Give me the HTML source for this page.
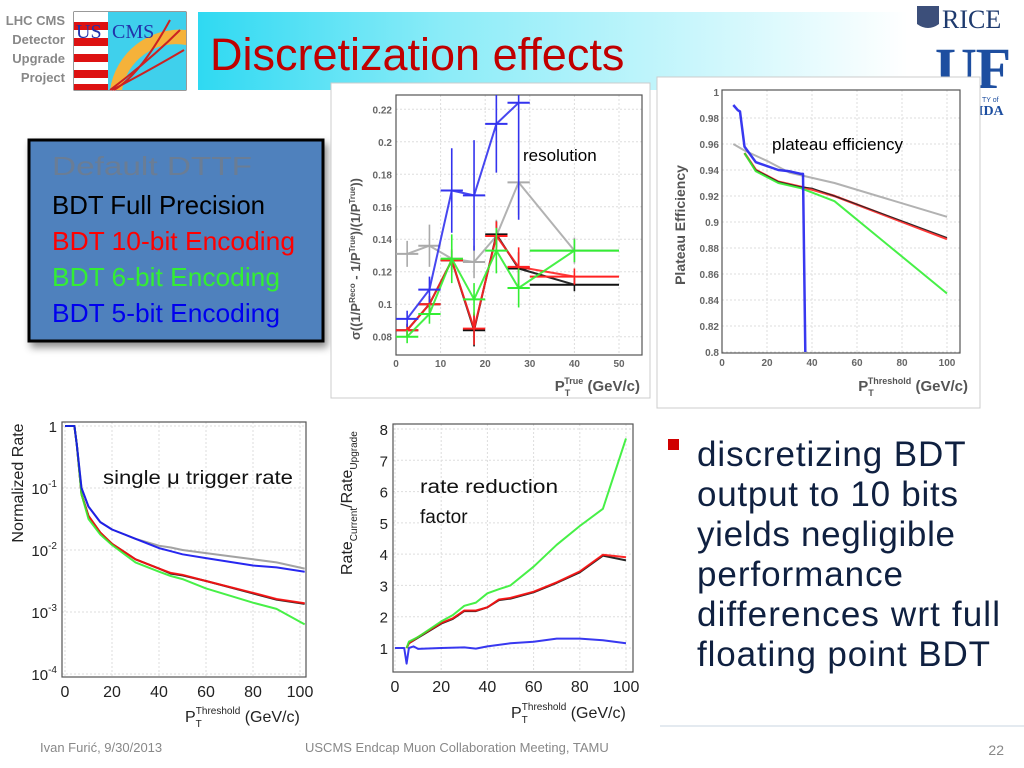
<!DOCTYPE html>
<html><head><meta charset="utf-8"><style>
html,body{margin:0;padding:0;background:#fff;width:1024px;height:768px;overflow:hidden}
svg{display:block;font-family:"Liberation Sans",sans-serif}
</style></head><body>
<svg id="s" width="1024" height="768" viewBox="0 0 1024 768" xmlns="http://www.w3.org/2000/svg">
<defs>
<linearGradient id="tg" x1="0" x2="1" y1="0" y2="0"><stop offset="0" stop-color="#2fd9f2"/><stop offset="0.35" stop-color="#8cecf8"/><stop offset="1" stop-color="#ffffff"/></linearGradient>
<filter id="sh" x="-10%" y="-10%" width="130%" height="130%"><feDropShadow dx="3" dy="5" stdDeviation="4" flood-color="#000" flood-opacity="0.45"/></filter>
</defs>
<g>
<text x="65" y="25" text-anchor="end" font-size="13" font-weight="bold" fill="#888"><tspan x="65">LHC CMS</tspan><tspan x="65" dy="19">Detector</tspan><tspan x="65" dy="19">Upgrade</tspan><tspan x="65" dy="19">Project</tspan></text>
<g>
<rect x="74" y="12" width="112" height="78" fill="#a9e9f4" stroke="#333"/>
<rect x="74" y="12" width="34" height="78" fill="#fff"/>
<rect x="74" y="22" width="34" height="8" fill="#d11"/><rect x="74" y="38" width="34" height="8" fill="#d11"/><rect x="74" y="54" width="34" height="8" fill="#d11"/><rect x="74" y="70" width="34" height="8" fill="#d11"/><rect x="74" y="84" width="34" height="6" fill="#d11"/>
<rect x="108" y="12" width="78" height="78" fill="#3fd0ec"/>
<path d="M110 90 A70 70 0 0 1 186 30 L186 45 A55 55 0 0 0 122 90Z" fill="#f5b23a"/>
<path d="M110 90 Q150 60 180 30 M112 90 Q150 70 184 50 M114 90 Q140 75 170 20" stroke="#c22" stroke-width="2" fill="none"/>
<text x="76" y="38" font-family="Liberation Serif,serif" font-size="20" fill="#2233aa">US</text>
<text x="112" y="38" font-family="Liberation Serif,serif" font-size="20" fill="#2233aa">CMS</text>
</g>
<rect x="198" y="12" width="710" height="78" fill="url(#tg)"/>
<text x="210" y="70" font-size="45" fill="#c00000">Discretization effects</text>
<g>
<path d="M917 6 h22 v18 q-11 8 -22 0z" fill="#3c4f7a"/>
<text x="942" y="28" font-family="Liberation Serif,serif" font-size="26" fill="#1e3a6e">RICE</text>
</g>
<g>
<text x="935" y="88" font-family="Liberation Serif,serif" font-size="58" font-weight="bold" fill="#1d4ea0" textLength="76">UF</text>
<text x="982" y="102" font-size="7" fill="#1d4ea0">TY of</text>
<text x="978" y="115" font-family="Liberation Serif,serif" font-size="14" font-weight="bold" fill="#1d4ea0">IDA</text>
</g>
</g>

<g filter="url(#sh)">
<rect x="29" y="140" width="294" height="201" fill="#4f81bd" stroke="#000" stroke-width="3"/>
</g>
<g font-size="26">
<text x="52" y="175" fill="#6a7d95" textLength="200" lengthAdjust="spacingAndGlyphs">Default DTTF</text>
<text x="52" y="214" fill="#000" textLength="213" lengthAdjust="spacingAndGlyphs">BDT Full Precision</text>
<text x="52" y="250" fill="#ff0000" textLength="243" lengthAdjust="spacingAndGlyphs">BDT 10-bit Encoding</text>
<text x="52" y="286" fill="#33ee33" textLength="228" lengthAdjust="spacingAndGlyphs">BDT 6-bit Encoding</text>
<text x="52" y="322" fill="#0000ee" textLength="228" lengthAdjust="spacingAndGlyphs">BDT 5-bit Encoding</text>
</g>

<g>
<rect x="668" y="439" width="11" height="11" fill="#d00000"/>
<text font-size="35" fill="#0f2040" lengthAdjust="spacingAndGlyphs">
<tspan x="697" y="466" textLength="268">discretizing BDT</tspan>
<tspan x="697" y="506" textLength="261">output to 10 bits</tspan>
<tspan x="697" y="546" textLength="258">yields negligible</tspan>
<tspan x="697" y="586" textLength="206">performance</tspan>
<tspan x="697" y="626" textLength="303">differences wrt full</tspan>
<tspan x="697" y="666" textLength="293">floating point BDT</tspan></text>
</g>
<line x1="660" y1="726" x2="1024" y2="726" stroke="#c8d4e0"/>
<text x="40" y="752" font-size="13" fill="#888">Ivan Furić, 9/30/2013</text>
<text x="305" y="752" font-size="13" fill="#888">USCMS Endcap Muon Collaboration Meeting, TAMU</text>
<text x="1004" y="755" font-size="14" fill="#888" text-anchor="end">22</text>

<g id="res"></g>
<g id="plat"></g>
<g id="rate"></g>
<g id="red"></g>
</svg>
<script>
// ---- resolution data ----
const resBins = [2.5, 7.5, 12.5, 17.5, 22.5, 27.5, 40];
const resBinHalf = [2.5, 2.5, 2.5, 2.5, 2.5, 2.5, 10];
const resGray = [0.131, 0.136, 0.128, 0.126, 0.142, 0.175, 0.133];
const resBlack = [0.084, 0.100, 0.127, 0.084, 0.143, 0.122, 0.112];
const resRed = [0.084, 0.100, 0.127, 0.085, 0.142, 0.123, 0.117];
const resGreen = [0.080, 0.094, 0.128, 0.103, 0.133, 0.110, 0.133];
const resBlue = [0.091, 0.109, 0.170, 0.167, 0.211, 0.224];
const resErrGray = [0.008, 0.013, 0.006, 0.010, 0.010, 0.020, 0.008];
const resErrBlack = [0.004, 0.005, 0.006, 0.010, 0.008, 0.010, 0.004];
const resErrRed = [0.004, 0.005, 0.007, 0.010, 0.009, 0.012, 0.005];
const resErrGreen = [0.004, 0.006, 0.015, 0.010, 0.014, 0.012, 0.007];
const resErrBlue = [0.005, 0.008, 0.026, 0.034, 0.030, 0.072];
const resXTicks = [0, 10, 20, 30, 40, 50];
const resYTicks = [0.08, 0.1, 0.12, 0.14, 0.16, 0.18, 0.2, 0.22];
const resYLabels = ["0.08", "0.1", "0.12", "0.14", "0.16", "0.18", "0.2", "0.22"];
// ---- plateau data ----
const platBlueX = [5, 7, 8, 10, 15, 25, 30, 35, 36, 37];
const platBlueY = [0.990, 0.986, 0.985, 0.958, 0.946, 0.940, 0.939, 0.937, 0.937, 0.80];
const platGrayX = [5, 10, 20, 30, 50, 100];
const platGrayY = [0.960, 0.955, 0.947, 0.938, 0.930, 0.904];
const platRedX = [10, 15, 25, 35, 40, 50, 100];
const platRedY = [0.953, 0.940, 0.931, 0.927, 0.925, 0.920, 0.887];
const platBlackY = [0.953, 0.940, 0.931, 0.927, 0.926, 0.920, 0.888];
const platGreenX = [10, 15, 25, 35, 50, 100];
const platGreenY = [0.953, 0.939, 0.930, 0.926, 0.916, 0.845];
const platXTicks = [0, 20, 40, 60, 80, 100];
const platYTicks = [0.8, 0.82, 0.84, 0.86, 0.88, 0.9, 0.92, 0.94, 0.96, 0.98, 1];
const platYLabels = ["0.8", "0.82", "0.84", "0.86", "0.88", "0.9", "0.92", "0.94", "0.96", "0.98", "1"];
// ---- rate data (log10 of normalized rate) ----
const rateX = [0, 4, 5, 7, 10, 15, 20, 30, 40, 45, 50, 60, 80, 90, 102];
const rateBlue = [0, 0, -0.3, -1.0, -1.3, -1.55, -1.67, -1.82, -1.97, -2.02, -2.07, -2.13, -2.25, -2.28, -2.35];
const rateGray = [0, 0, -0.3, -1.0, -1.3, -1.55, -1.67, -1.82, -1.93, -1.96, -2.0, -2.05, -2.15, -2.2, -2.3];
const rateBlack = [0, 0, -0.3, -1.1, -1.45, -1.72, -1.9, -2.15, -2.3, -2.38, -2.41, -2.5, -2.7, -2.8, -2.87];
const rateRed = [0, 0, -0.3, -1.1, -1.45, -1.72, -1.9, -2.15, -2.3, -2.37, -2.4, -2.5, -2.69, -2.79, -2.86];
const rateGreen = [0, 0, -0.3, -1.1, -1.5, -1.75, -1.92, -2.2, -2.35, -2.42, -2.47, -2.62, -2.85, -2.95, -3.2];
const rateXTicks = [0, 20, 40, 60, 80, 100];
const rateYTicks = [0, -1, -2, -3, -4];
const rateYLabels = ["1", "10", "10", "10", "10"];
const rateYExp = ["", "-1", "-2", "-3", "-4"];
// ---- reduction data ----
const redX = [5, 6, 10, 20, 25, 30, 35, 40, 45, 50, 60, 70, 80, 90, 100];
const redGreen = [1.0, 1.2, 1.35, 1.85, 2.05, 2.35, 2.45, 2.75, 2.88, 3.0, 3.6, 4.3, 4.9, 5.45, 7.7];
const redRed = [1.0, 1.15, 1.35, 1.8, 1.95, 2.2, 2.2, 2.3, 2.55, 2.6, 2.8, 3.1, 3.45, 3.98, 3.9];
const redBlack = [1.0, 1.15, 1.33, 1.78, 1.93, 2.18, 2.18, 2.3, 2.53, 2.58, 2.78, 3.08, 3.42, 3.95, 3.8];
const redBlueX = [0, 4, 5, 6, 8, 10, 20, 30, 35, 40, 50, 60, 70, 80, 90, 100];
const redBlue = [1, 1, 0.5, 1.0, 1.05, 0.97, 1.0, 1.02, 0.98, 1.05, 1.15, 1.2, 1.3, 1.3, 1.25, 1.15];
const redXTicks = [0, 20, 40, 60, 80, 100];
const redYTicks = [1, 2, 3, 4, 5, 6, 7, 8];

const NS = "http://www.w3.org/2000/svg";
function mk(parent, tag, attrs, txt) {
  const e = document.createElementNS(NS, tag);
  for (const k in attrs) e.setAttribute(k, attrs[k]);
  if (txt !== undefined) e.textContent = txt;
  parent.appendChild(e);
  return e;
}
function lin(d0, d1, r0, r1) { return v => r0 + (v - d0) * (r1 - r0) / (d1 - d0); }
function polyline(g, xs, ys, sx, sy, color, w, name) {
  const pts = xs.map((x, i) => sx(x).toFixed(1) + "," + sy(ys[i]).toFixed(1)).join(" ");
  const p = mk(g, "polyline", { points: pts, fill: "none", stroke: color, "stroke-width": w, "stroke-linejoin": "round", opacity: 0.9 });
  
  
}
function frame(g, x0, y0, x1, y1, xt, sx, yt, sy, grid) {
  if (grid) {
    xt.forEach(t => { mk(g, "line", { x1: sx(t), x2: sx(t), y1: y0, y2: y1, stroke: "#ddd", "stroke-dasharray": "2,2" }); });
    yt.forEach(t => { mk(g, "line", { x1: x0, x2: x1, y1: sy(t), y2: sy(t), stroke: "#ddd", "stroke-dasharray": "2,2" }); });
  }
  const r = mk(g, "rect", { x: x0, y: y0, width: x1 - x0, height: y1 - y0, fill: "none", stroke: "#555", "stroke-width": 1.2 });
  
  
}

// ===== Resolution =====
(function () {
  const g = document.getElementById("res");
  mk(g, "rect", { x: 331, y: 83, width: 319, height: 315, fill: "#fff", stroke: "#ccc" });
  const x0 = 396, x1 = 642, y0 = 95, y1 = 355;
  const sx = lin(0, 50, 396, 619), sy = lin(0.08, 0.22, 336.7, 109.3);
  frame(g, x0, y0, x1, y1, resXTicks, sx, resYTicks, sy, true);
  resXTicks.forEach(t => { const e = mk(g, "text", { x: sx(t), y: 367, "font-size": 10, fill: "#666", "text-anchor": "middle", "font-weight": "bold" }, t);   });
  resYTicks.forEach((t, i) => { const e = mk(g, "text", { x: 392, y: sy(t) + 4, "font-size": 10, fill: "#666", "text-anchor": "end", "font-weight": "bold" }, resYLabels[i]);   });
  const xt = mk(g, "text", { x: 640, y: 391, "font-size": 15, fill: "#555", "text-anchor": "end", "font-weight": "bold" }, "P");
  mk(xt, "tspan", { dy: 5, "font-size": 9 }, "T");
  mk(xt, "tspan", { dy: -12, "font-size": 9, dx: -6 }, "True");
  mk(xt, "tspan", { dy: 7, "font-size": 15 }, " (GeV/c)");
   
  const yt = mk(g, "text", { x: 0, y: 0, transform: "translate(360,340) rotate(-90)", "font-size": 13, fill: "#555", "font-weight": "bold" }, "σ((1/P");
  mk(yt, "tspan", { "font-size": 8, dy: -5 }, "Reco"); mk(yt, "tspan", { dy: 5 }, " - 1/P");
  mk(yt, "tspan", { "font-size": 8, dy: -5 }, "True"); mk(yt, "tspan", { dy: 5 }, ")/(1/P");
  mk(yt, "tspan", { "font-size": 8, dy: -5 }, "True"); mk(yt, "tspan", { dy: 5 }, "))");
   
  const series = [[resGray, resErrGray, "#aaa", "gray"], [resBlack, resErrBlack, "#111", "black"], [resRed, resErrRed, "#f22", "red"], [resGreen, resErrGreen, "#3e3", "green"], [resBlue, resErrBlue, "#33e", "blue"]];
  series.forEach(([ys, es, c, n]) => {
    const xs = resBins.slice(0, ys.length);
    polyline(g, xs, ys, sx, sy, c, 2, "resolution-line-" + n);
    ys.forEach((v, i) => {
      const h = mk(g, "line", { x1: sx(xs[i] - resBinHalf[i]), x2: sx(xs[i] + resBinHalf[i]), y1: sy(v), y2: sy(v), stroke: c, "stroke-width": 2 });
       
      const vv = mk(g, "line", { x1: sx(xs[i]), x2: sx(xs[i]), y1: Math.max(y0, sy(v + es[i])), y2: sy(v - es[i]), stroke: c, "stroke-width": 1.6 });
       
    });
  });
  const l = mk(g, "text", { x: 523, y: 161, "font-size": 17, fill: "#000" }, "resolution");
   
})();

// ===== Plateau =====
(function () {
  const g = document.getElementById("plat");
  mk(g, "rect", { x: 657, y: 77, width: 323, height: 331, fill: "#fff", stroke: "#ccc" });
  const x0 = 722, x1 = 960, y0 = 90, y1 = 353;
  const sx = lin(0, 100, 722, 947), sy = lin(0.8, 0.98, 352, 118);
  frame(g, x0, y0, x1, y1, platXTicks, sx, platYTicks.slice(0, 10), sy, true);
  platXTicks.forEach(t => { const e = mk(g, "text", { x: sx(t), y: 366, "font-size": 10, fill: "#666", "text-anchor": "middle", "font-weight": "bold" }, t);   });
  platYTicks.forEach((t, i) => { const e = mk(g, "text", { x: 719, y: sy(t) + 4, "font-size": 10, fill: "#666", "text-anchor": "end", "font-weight": "bold" }, platYLabels[i]);   });
  const xt = mk(g, "text", { x: 968, y: 391, "font-size": 15, fill: "#555", "text-anchor": "end", "font-weight": "bold" }, "P");
  mk(xt, "tspan", { dy: 5, "font-size": 9 }, "T");
  mk(xt, "tspan", { dy: -12, "font-size": 9, dx: -6 }, "Threshold");
  mk(xt, "tspan", { dy: 7, "font-size": 15 }, " (GeV/c)");
   
  const yt = mk(g, "text", { x: 0, y: 0, transform: "translate(685,225) rotate(-90)", "font-size": 14, fill: "#555", "font-weight": "bold", "text-anchor": "middle" }, "Plateau Efficiency");
   
  polyline(g, platGrayX, platGrayY, sx, sy, "#aaa", 2, "plateau-line-gray");
  polyline(g, platRedX, platRedY, sx, sy, "#f22", 2.5, "plateau-line-red");
  polyline(g, platRedX, platBlackY, sx, sy, "#222", 1.2, "plateau-line-black");
  polyline(g, platGreenX, platGreenY, sx, sy, "#3e3", 2, "plateau-line-green");
  polyline(g, platBlueX, platBlueY, sx, sy, "#22e", 2.5, "plateau-line-blue");
  const l = mk(g, "text", { x: 772, y: 150, "font-size": 17, fill: "#000" }, "plateau efficiency");
   
})();

// ===== Rate =====
(function () {
  const g = document.getElementById("rate");
  const x0 = 62, x1 = 306, y0 = 422, y1 = 677;
  const sx = lin(0, 100, 65, 300), sy = lin(0, -4, 426, 674);
  frame(g, x0, y0, x1, y1, rateXTicks, sx, rateYTicks, sy, true);
  rateXTicks.forEach(t => { const e = mk(g, "text", { x: sx(t), y: 697, "font-size": 16, fill: "#222", "text-anchor": "middle" }, t);   });
  rateYTicks.forEach((t, i) => {
    const e = mk(g, "text", { x: 57, y: sy(t) + 6, "font-size": 15, fill: "#222", "text-anchor": "end" }, rateYLabels[i]);
    if (rateYExp[i]) mk(e, "tspan", { dy: -7, "font-size": 10 }, rateYExp[i]);
     
  });
  const xt = mk(g, "text", { x: 185, y: 722, "font-size": 16, fill: "#222" }, "P");
  mk(xt, "tspan", { dy: 5, "font-size": 10 }, "T");
  mk(xt, "tspan", { dy: -13, "font-size": 10, dx: -6 }, "Threshold");
  mk(xt, "tspan", { dy: 8, "font-size": 16 }, " (GeV/c)");
   
  const yt = mk(g, "text", { x: 0, y: 0, transform: "translate(23,483) rotate(-90)", "font-size": 16, fill: "#222", "text-anchor": "middle" }, "Normalized Rate");
   
  polyline(g, rateX, rateGray, sx, sy, "#999", 2, "rate-line-gray");
  polyline(g, rateX, rateBlack, sx, sy, "#111", 2, "rate-line-black");
  polyline(g, rateX, rateRed, sx, sy, "#f11", 2, "rate-line-red");
  polyline(g, rateX, rateGreen, sx, sy, "#3e3", 2, "rate-line-green");
  polyline(g, rateX, rateBlue, sx, sy, "#11e", 2, "rate-line-blue");
  const l = mk(g, "text", { x: 103, y: 484, "font-size": 19, fill: "#111", textLength: 190, lengthAdjust: "spacingAndGlyphs" }, "single μ trigger rate");
   
})();

// ===== Reduction =====
(function () {
  const g = document.getElementById("red");
  const x0 = 393, x1 = 633, y0 = 424, y1 = 672;
  const sx = lin(0, 100, 395, 626), sy = lin(1, 8, 648, 429);
  frame(g, x0, y0, x1, y1, redXTicks, sx, redYTicks, sy, true);
  redXTicks.forEach(t => { const e = mk(g, "text", { x: sx(t), y: 692, "font-size": 16, fill: "#222", "text-anchor": "middle" }, t);   });
  redYTicks.forEach(t => { const e = mk(g, "text", { x: 388, y: sy(t) + 6, "font-size": 15, fill: "#222", "text-anchor": "end" }, t);   });
  const xt = mk(g, "text", { x: 511, y: 718, "font-size": 16, fill: "#222" }, "P");
  mk(xt, "tspan", { dy: 5, "font-size": 10 }, "T");
  mk(xt, "tspan", { dy: -13, "font-size": 10, dx: -6 }, "Threshold");
  mk(xt, "tspan", { dy: 8, "font-size": 16 }, " (GeV/c)");
   
  const yt = mk(g, "text", { x: 0, y: 0, transform: "translate(352,575) rotate(-90)", "font-size": 16, fill: "#222" }, "Rate");
  mk(yt, "tspan", { dy: 5, "font-size": 10 }, "Current"); mk(yt, "tspan", { dy: -5 }, "/Rate");
  mk(yt, "tspan", { dy: 5, "font-size": 10 }, "Upgrade");
   
  polyline(g, redX, redBlack, sx, sy, "#111", 2, "reduction-line-black");
  polyline(g, redX, redRed, sx, sy, "#f11", 2, "reduction-line-red");
  polyline(g, redX, redGreen, sx, sy, "#3e3", 2, "reduction-line-green");
  polyline(g, redBlueX, redBlue, sx, sy, "#22e", 2, "reduction-line-blue");
  const l = mk(g, "text", { x: 420, y: 493, "font-size": 19, fill: "#111", textLength: 138, lengthAdjust: "spacingAndGlyphs" }, "rate reduction");
   
  const l2 = mk(g, "text", { x: 420, y: 523, "font-size": 19, fill: "#111" }, "factor");
   
})();
</script>
</body></html>
